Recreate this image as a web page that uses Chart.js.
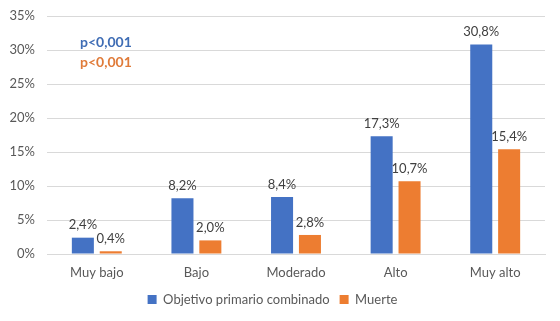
<!DOCTYPE html>
<html>
<head>
<meta charset="utf-8">
<script src="https://cdn.jsdelivr.net/npm/chart.js@4/dist/chart.umd.min.js"></script>
<style>
  html, body { margin: 0; padding: 0; background: #fff; }
  #wrap { position: relative; width: 560px; height: 321px; }
</style>
</head>
<body>
<div id="wrap"><canvas id="chart" width="560" height="321"></canvas></div>
<script>
// datos
const categories = ['Muy bajo', 'Bajo', 'Moderado', 'Alto', 'Muy alto'];
const objetivo = [2.4, 8.2, 8.4, 17.3, 30.8];
const muerte = [0.4, 2.0, 2.8, 10.7, 15.4];
const seriesNames = ['Objetivo primario combinado', 'Muerte'];
const pTexts = ['p<0,001', 'p<0,001'];

const BLUE = '#4472C4';
const ORANGE = '#ED7D31';
const TEXT = '#595959';
const FONT = 'Lato, "Open Sans", sans-serif';

// etiquetas encima de las barras + textos p
const labelsPlugin = {
  id: 'barLabels',
  afterDatasetsDraw(chart) {
    const ctx = chart.ctx;
    ctx.save();
    ctx.font = '13px ' + FONT;
    ctx.fillStyle = '#404040';
    ctx.textAlign = 'center';
    ctx.textBaseline = 'bottom';
    chart.data.datasets.forEach((ds, i) => {
      chart.getDatasetMeta(i).data.forEach((bar, j) => {
        ctx.fillText(ds.data[j].toFixed(1).replace('.', ',') + '%', bar.x, bar.y - 6);
      });
    });
    // p valores
    ctx.font = 'bold 14px ' + FONT;
    ctx.textAlign = 'left';
    ctx.textBaseline = 'middle';
    const x = chart.chartArea.left + 33;
    ctx.fillStyle = '#3F6DB5';
    ctx.fillText(pTexts[0], x, 42);
    ctx.fillStyle = '#E07B39';
    ctx.fillText(pTexts[1], x, 62);
    ctx.restore();
  }
};

new Chart(document.getElementById('chart'), {
  type: 'bar',
  data: {
    labels: categories,
    datasets: [
      { label: seriesNames[0], data: objetivo, backgroundColor: BLUE },
      { label: seriesNames[1], data: muerte, backgroundColor: ORANGE }
    ]
  },
  options: {
    responsive: false,
    animation: false,
    categoryPercentage: 0.56,
    barPercentage: 0.79,
    layout: { padding: { left: 0, right: 15, top: 16, bottom: 5 } },
    plugins: {
      legend: {
        position: 'bottom',
        labels: {
          boxWidth: 9, boxHeight: 9, padding: 10,
          color: TEXT, font: { family: FONT, size: 13 }
        }
      },
      tooltip: { enabled: false }
    },
    scales: {
      x: {
        afterFit(scale) { scale.height = 29; },
        grid: { display: false, drawTicks: false },
        border: { display: true, color: '#d9d9d9' },
        ticks: { color: TEXT, padding: 11, font: { family: FONT, size: 13 } }
      },
      y: {
        min: 0, max: 35,
        afterFit(scale) { scale.width = 47; scale.paddingTop = 0; scale.paddingBottom = 0; },
        grid: { color: '#d9d9d9', drawTicks: false },
        border: { display: false },
        ticks: {
          stepSize: 5, padding: 12, color: TEXT,
          font: { family: FONT, size: 13 },
          callback: v => v + '%'
        }
      }
    }
  },
  plugins: [labelsPlugin]
});
</script>
</body>
</html>
